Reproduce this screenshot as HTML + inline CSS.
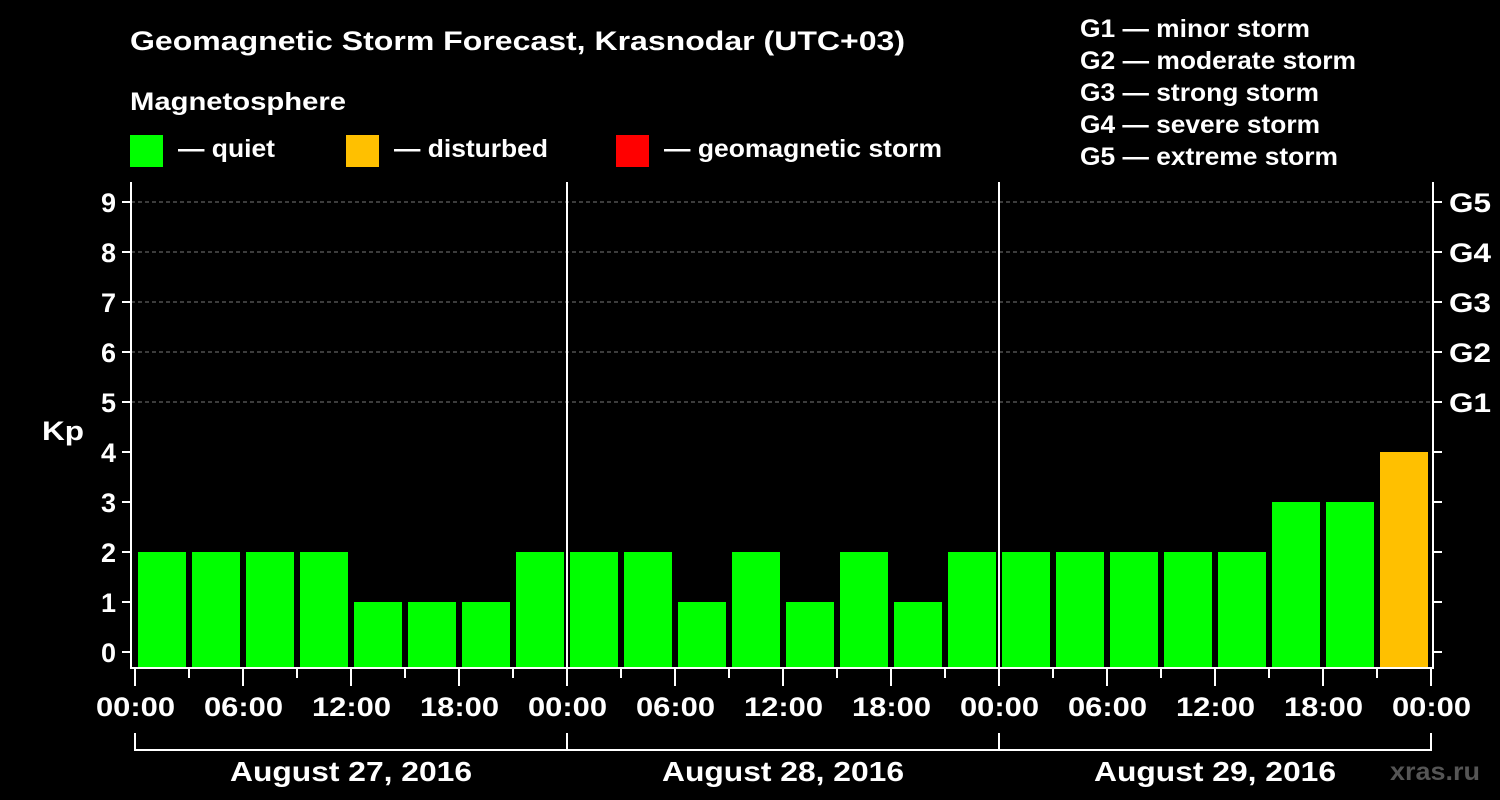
<!DOCTYPE html>
<html><head><meta charset="utf-8"><style>
html,body{margin:0;padding:0;background:#000;}
svg{display:block;font-family:"Liberation Sans",Arial,sans-serif;font-weight:bold;}
</style></head><body>
<svg id="chart" width="1500" height="800">
<text x="130" y="50" fill="#fff" font-size="27" textLength="775" lengthAdjust="spacingAndGlyphs">Geomagnetic Storm Forecast, Krasnodar (UTC+03)</text>
<text x="130" y="110" fill="#fff" font-size="25" textLength="216" lengthAdjust="spacingAndGlyphs">Magnetosphere</text>
<g><rect x="130" y="135" width="33" height="32" fill="#00ff00"/><text x="178" y="157" fill="#fff" font-size="25" textLength="97" lengthAdjust="spacingAndGlyphs">— quiet</text></g>
<g><rect x="346" y="135" width="33" height="32" fill="#ffc000"/><text x="394" y="157" fill="#fff" font-size="25" textLength="154" lengthAdjust="spacingAndGlyphs">— disturbed</text></g>
<g><rect x="616" y="135" width="33" height="32" fill="#ff0000"/><text x="664" y="157" fill="#fff" font-size="25" textLength="278" lengthAdjust="spacingAndGlyphs">— geomagnetic storm</text></g>
<g fill="#fff" font-size="25">
<text x="1080" y="37" textLength="230" lengthAdjust="spacingAndGlyphs">G1 — minor storm</text>
<text x="1080" y="69" textLength="276" lengthAdjust="spacingAndGlyphs">G2 — moderate storm</text>
<text x="1080" y="101" textLength="239" lengthAdjust="spacingAndGlyphs">G3 — strong storm</text>
<text x="1080" y="133" textLength="240" lengthAdjust="spacingAndGlyphs">G4 — severe storm</text>
<text x="1080" y="165" textLength="258" lengthAdjust="spacingAndGlyphs">G5 — extreme storm</text>
</g>
<text x="42" y="440" fill="#fff" font-size="27" textLength="42" lengthAdjust="spacingAndGlyphs">Kp</text>
<text x="1390" y="780" fill="#555" font-size="25" textLength="90" lengthAdjust="spacingAndGlyphs">xras.ru</text>
<g id="plot"></g>
</svg>
<script>
const days = ["August 27, 2016","August 28, 2016","August 29, 2016"];
const kpValues = [2,2,2,2,1,1,1,2, 2,2,1,2,1,2,1,2, 2,2,2,2,2,3,3,4];
const yTicks = [0,1,2,3,4,5,6,7,8,9];
const gLabels = ["G1","G2","G3","G4","G5"];
const xTickLabels = ["00:00","06:00","12:00","18:00"];

const NS="http://www.w3.org/2000/svg";
const plotG=document.getElementById('plot');
const x0=135, slot=54, plotLeft=131, plotRight=1433, plotTop=182, plotBottom=668;
const yScale=v=>652-50*v;
const xs=i=>x0+i*slot;
function mk(t,a){const e=document.createElementNS(NS,t);for(const k in a)e.setAttribute(k,a[k]);plotG.appendChild(e);return e;}
for(let v=5;v<=9;v++){const l=mk('line',{x1:plotLeft,x2:plotRight,y1:yScale(v),y2:yScale(v),stroke:'#777','stroke-dasharray':'4,3','stroke-width':1});

}
kpValues.forEach((v,i)=>{const c=v>=5?'#ff0000':(v>=4?'#ffc000':'#00ff00');
const r=mk('rect',{x:xs(i)+3,y:yScale(v),width:48,height:plotBottom-1-yScale(v),fill:c});

});
for(let d=1;d<days.length;d++){const l=mk('line',{x1:xs(d*8),x2:xs(d*8),y1:plotTop,y2:plotBottom,stroke:'#fff','stroke-width':2});

}
const ax=mk('path',{d:`M${plotLeft},${plotTop}V${plotBottom}H${plotRight}V${plotTop}`,stroke:'#fff','stroke-width':2,fill:'none'});


yTicks.forEach(v=>{
mk('line',{x1:122,x2:plotLeft,y1:yScale(v),y2:yScale(v),stroke:'#fff','stroke-width':2});
mk('line',{x1:plotRight,x2:1442,y1:yScale(v),y2:yScale(v),stroke:'#fff','stroke-width':2});
const t=mk('text',{x:116,y:yScale(v)+10,fill:'#fff','font-size':27,'text-anchor':'end'});t.textContent=v;

});
gLabels.forEach((s,i)=>{const t=mk('text',{x:1449,y:yScale(5+i)+10,fill:'#fff','font-size':27,textLength:42,lengthAdjust:'spacingAndGlyphs'});t.textContent=s;

});
for(let i=0;i<=kpValues.length;i++){const major=i%2===0;
mk('line',{x1:xs(i),x2:xs(i),y1:plotBottom,y2:major?686:678,stroke:'#fff','stroke-width':2});
if(major){const t=mk('text',{x:xs(i)-39,y:716,fill:'#fff','font-size':27,textLength:79,lengthAdjust:'spacingAndGlyphs'});
t.textContent=(i%8===0)?"00:00":xTickLabels[(i%8)/2];

}}
days.forEach((d,k)=>{const a=xs(k*8),b=xs(k*8+8);
mk('path',{d:`M${a},733V750H${b}`+(k===days.length-1?'V733':''),stroke:'#fff','stroke-width':2,fill:'none'});
const t=mk('text',{x:(a+b)/2-121,y:781,fill:'#fff','font-size':28,textLength:242,lengthAdjust:'spacingAndGlyphs'});t.textContent=d;

});
</script>
</body></html>
